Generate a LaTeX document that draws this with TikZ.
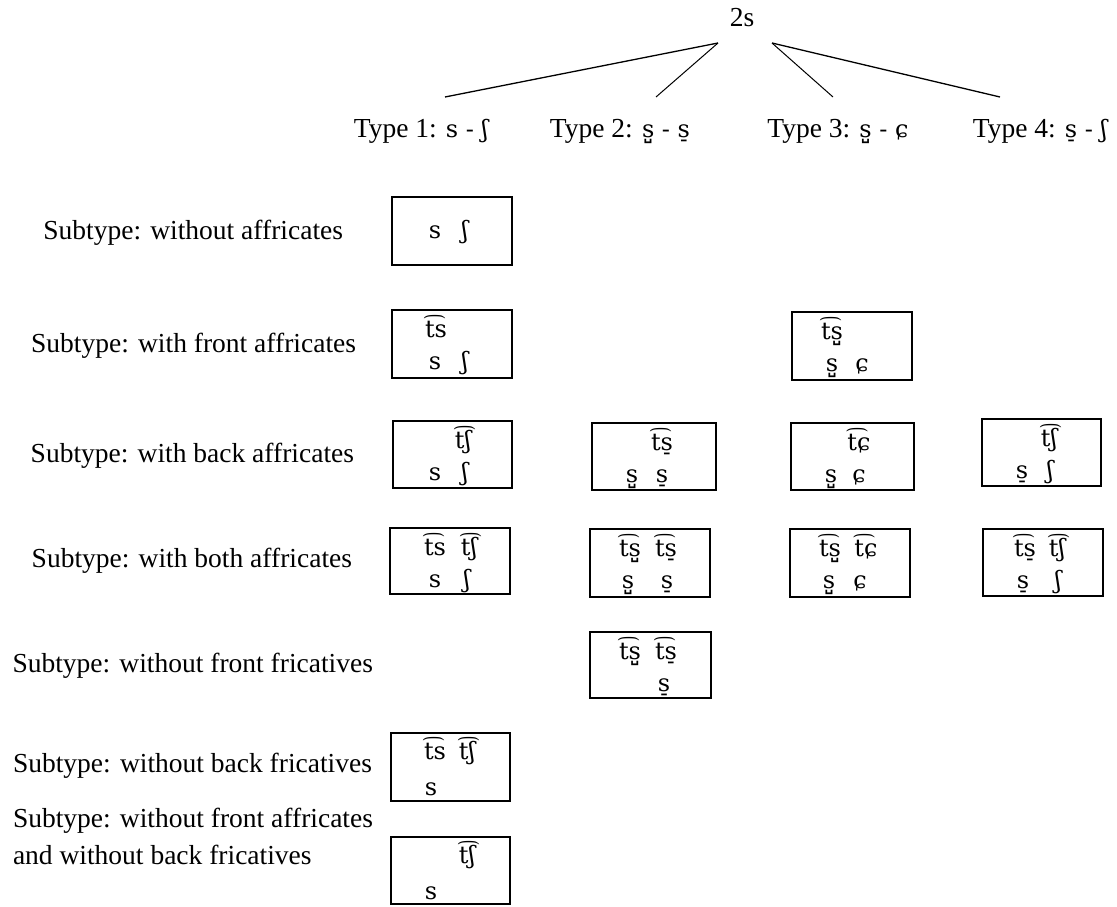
\documentclass[tikz,border=0pt]{standalone}
\usepackage{fontspec}
\setmainfont{Liberation Serif}
\newfontfamily\ipafont{DejaVu Serif}
\usetikzlibrary{fit}
\newcommand{\ipa}[1]{{\ipafont\fontsize{24pt}{30pt}\selectfont #1}}
\tikzset{
  lbl/.style={inner sep=0pt, outer sep=0pt, font=\fontsize{27.5pt}{37pt}\selectfont},
  box/.style={draw, line width=1.3pt, inner sep=0pt, outer sep=0pt},
  branch/.style={line width=1.3pt},
  sym/.style={inner sep=0pt, outer sep=0pt, anchor=base, font=\ipafont\fontsize{24pt}{30pt}\selectfont}
}
\newcommand{\mybox}[5]{\node[box, fit={(#2,#3) (#4,#5)}] (#1) {};}
\newcommand{\cell}[5]{\node[sym] (#1) at ([xshift=#3pt,yshift=-#4pt]#2.north west) {#5};}
\begin{document}
\begin{tikzpicture}[x=1pt,y=-1pt]
\useasboundingbox (0,0) rectangle (1117,907);

% root and types
\node[lbl, anchor=base, text height=18pt, text depth=0pt] (root) at (742,27) {2s};
\node[lbl, anchor=base, text height=19pt] (t1) at (421,137) {Type 1: \ipa{s - ʃ}};
\node[lbl, anchor=base, text height=19pt] (t2) at (620,137) {Type 2: \ipa{s̺ - s̠}};
\node[lbl, anchor=base, text height=19pt] (t3) at (838,137) {Type 3: \ipa{s̺ - ɕ}};
\node[lbl, anchor=base, text height=19pt] (t4) at (1040,137) {Type 4: \ipa{s̠ - ʃ}};

\draw[branch] ([xshift=-24pt,yshift=-16pt]root.south) -- ([xshift=24pt,yshift=21pt]t1.north);
\draw[branch, line width=1pt] ([xshift=-24pt,yshift=-16pt]root.south) -- ([xshift=36pt,yshift=21pt]t2.north);
\draw[branch, line width=1pt] ([xshift=30pt,yshift=-16pt]root.south) -- ([xshift=-5pt,yshift=21pt]t3.north);
\draw[branch] ([xshift=30pt,yshift=-16pt]root.south) -- ([xshift=-40pt,yshift=21pt]t4.north);

% row labels
\node[lbl, anchor=base east] (l1) at (343,239) {Subtype: without affricates};
\node[lbl, anchor=base east] (l2) at (356,352) {Subtype: with front affricates};
\node[lbl, anchor=base east] (l3) at (354,462) {Subtype: with back affricates};
\node[lbl, anchor=base east] (l4) at (352,567) {Subtype: with both affricates};
\node[lbl, anchor=base east] (l5) at (373,672) {Subtype: without front fricatives};
\node[lbl, anchor=base east] (l6) at (372,772) {Subtype: without back fricatives};
\node[lbl, anchor=north west, align=left] (l7) at (13,808) {Subtype: without front affricates\\and without back fricatives};

% boxes
\mybox{A1}{392}{197}{512}{265}
\mybox{A2}{392}{310}{512}{378}
\mybox{C2}{792}{312}{912}{380}
\mybox{A3}{393}{421}{512}{488}
\mybox{B3}{592}{423}{716}{490}
\mybox{C3}{791}{423}{914}{490}
\mybox{D3}{982}{419}{1101}{486}
\mybox{A4}{390}{528}{510}{594}
\mybox{B4}{590}{529}{710}{597}
\mybox{C4}{790}{529}{910}{597}
\mybox{D4}{983}{529}{1103}{596}
\mybox{B5}{590}{632}{711}{698}
\mybox{A6}{391}{733}{510}{801}
\mybox{A7}{391}{837}{510}{904}

% contents
\cell{A1a}{A1}{43}{41}{s}
\cell{A1b}{A1}{73}{41}{ʃ}

\cell{A2t}{A2}{44}{27}{t͡s}
\cell{A2a}{A2}{43}{59}{s}
\cell{A2b}{A2}{73}{59}{ʃ}

\cell{C2t}{C2}{40}{27}{t͡s̺}
\cell{C2a}{C2}{40}{59}{s̺}
\cell{C2b}{C2}{70}{59}{ɕ}

\cell{A3t}{A3}{70}{27}{t͡ʃ}
\cell{A3a}{A3}{42}{59}{s}
\cell{A3b}{A3}{72}{59}{ʃ}

\cell{B3t}{B3}{70}{27}{t͡s̠}
\cell{B3a}{B3}{40}{59}{s̺}
\cell{B3b}{B3}{70}{59}{s̠}

\cell{C3t}{C3}{68}{27}{t͡ɕ}
\cell{C3a}{C3}{40}{59}{s̺}
\cell{C3b}{C3}{68}{59}{ɕ}

\cell{D3t}{D3}{67}{27}{t͡ʃ}
\cell{D3a}{D3}{40}{59}{s̠}
\cell{D3b}{D3}{68}{59}{ʃ}

\cell{A4t}{A4}{45}{27}{t͡s}
\cell{A4u}{A4}{79}{27}{t͡ʃ}
\cell{A4a}{A4}{45}{59}{s}
\cell{A4b}{A4}{77}{59}{ʃ}

\cell{B4t}{B4}{40}{27}{t͡s̺}
\cell{B4u}{B4}{76}{27}{t͡s̠}
\cell{B4a}{B4}{38}{59}{s̺}
\cell{B4b}{B4}{77}{59}{s̠}

\cell{C4t}{C4}{40}{27}{t͡s̺}
\cell{C4u}{C4}{76}{27}{t͡ɕ}
\cell{C4a}{C4}{39}{59}{s̺}
\cell{C4b}{C4}{70}{59}{ɕ}

\cell{D4t}{D4}{42}{27}{t͡s̠}
\cell{D4u}{D4}{74}{27}{t͡ʃ}
\cell{D4a}{D4}{40}{59}{s̠}
\cell{D4b}{D4}{75}{59}{ʃ}

\cell{B5t}{B5}{40}{27}{t͡s̺}
\cell{B5u}{B5}{76}{27}{t͡s̠}
\cell{B5b}{B5}{74}{59}{s̠}

\cell{A6t}{A6}{44}{26}{t͡s}
\cell{A6u}{A6}{76}{26}{t͡ʃ}
\cell{A6a}{A6}{40}{62}{s}

\cell{A7u}{A7}{76}{26}{t͡ʃ}
\cell{A7a}{A7}{40}{62}{s}
\end{tikzpicture}
\end{document}
